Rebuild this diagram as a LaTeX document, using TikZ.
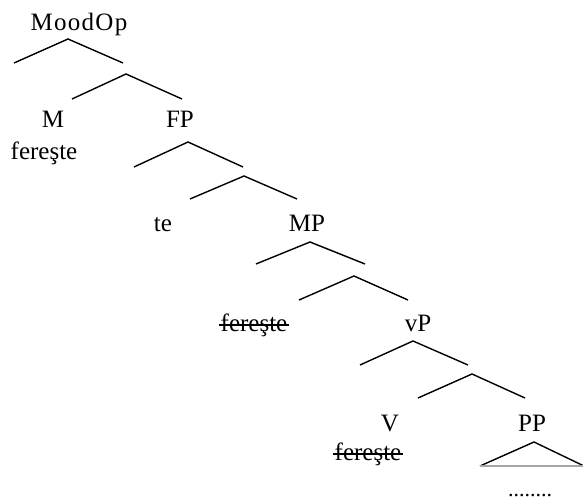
\documentclass[tikz,border=0pt]{standalone}
\usepackage{fontspec}
\setmainfont{Liberation Serif}
\begin{document}
\begin{tikzpicture}[x=1pt,y=-1pt,
  lbl/.style={anchor=base,inner sep=0pt,font=\fontsize{25}{28}\selectfont},
  branch/.style={line width=1.4pt,line join=miter},
  strikeline/.style={line width=1.1pt}]
\useasboundingbox (0,0) rectangle (583,502);
% labels
\node[lbl] (moodop) at (79,31) {\addfontfeature{LetterSpace=5}MoodOp};
\node[lbl] (m) at (53,128) {M};
\node[lbl] (mv) at (44,160) {fereşte};
\node[lbl] (fp) at (180,128) {FP};
\node[lbl] (te) at (163,232) {te};
\node[lbl] (mp) at (307,232) {MP};
\node[lbl] (sv) at (254,331) {fereşte};
\node[lbl] (vp) at (418,331) {vP};
\node[lbl] (v) at (390,431) {V};
\node[lbl] (vv) at (368,460) {fereşte};
\node[lbl] (pp) at (532,431) {PP};
\node[lbl,font=\fontsize{22}{24}\selectfont] (dots) at (530,496) {........};
% strike-throughs
\draw[strikeline] ([xshift=-1pt,yshift=6pt]sv.base west) -- ([xshift=1pt,yshift=6pt]sv.base east);
\draw[strikeline] ([xshift=-1pt,yshift=6pt]vv.base west) -- ([xshift=1pt,yshift=6pt]vv.base east);
% MoodOp
\coordinate (a1) at (68,39); \coordinate (a1l) at (14,63); \coordinate (a1r) at (123,63);
\coordinate (b1) at (126,74); \coordinate (b1l) at (72,99); \coordinate (b1r) at (182,99);
% FP
\coordinate (a2) at (188,142); \coordinate (a2l) at (134,167); \coordinate (a2r) at (243,167);
\coordinate (b2) at (244,176); \coordinate (b2l) at (190,199); \coordinate (b2r) at (297,199);
% MP
\coordinate (a3) at (310,242); \coordinate (a3l) at (256,264); \coordinate (a3r) at (365,264);
\coordinate (b3) at (354,276); \coordinate (b3l) at (299,300); \coordinate (b3r) at (408,300);
% vP
\coordinate (a4) at (413,341); \coordinate (a4l) at (360,365); \coordinate (a4r) at (468,365);
\coordinate (b4) at (472,374); \coordinate (b4l) at (418,398); \coordinate (b4r) at (525,398);
% PP triangle
\coordinate (t) at (534,442); \coordinate (tl) at (480,466); \coordinate (tr) at (584,466);
\foreach \n in {1,2,3,4}{
  \draw[branch] (a\n l) -- (a\n) -- (a\n r);
  \draw[branch] (b\n l) -- (b\n) -- (b\n r);
}
\draw[branch] (tl) -- (t) -- (tr);
\draw[line width=1.6pt,gray!70] (tl) -- (tr);
\end{tikzpicture}
\end{document}
